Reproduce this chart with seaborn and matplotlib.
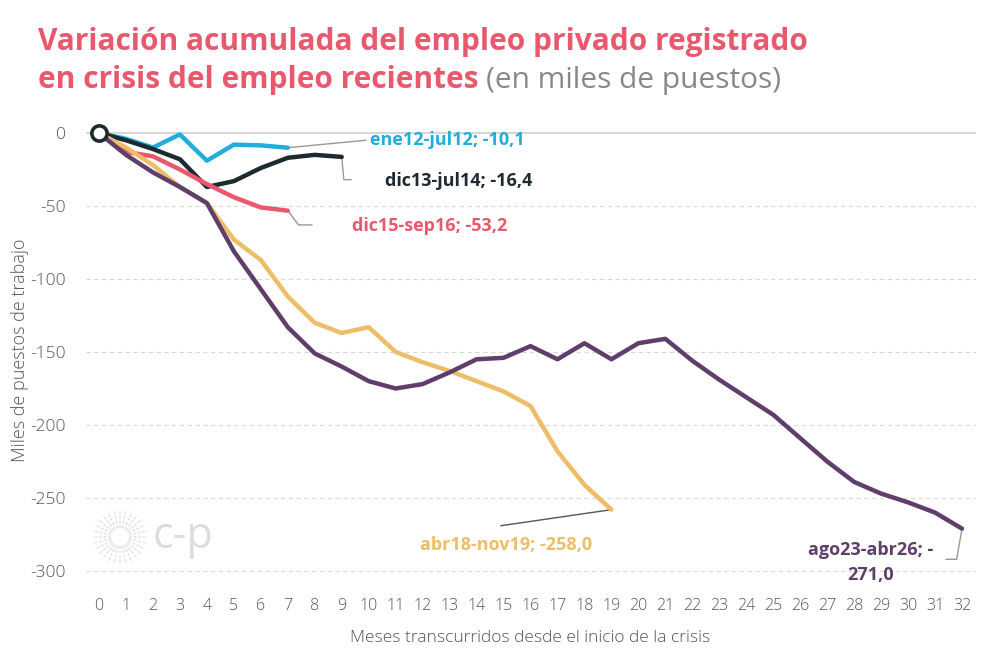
import numpy as np
import pandas as pd
import matplotlib
matplotlib.use("Agg")
import matplotlib.pyplot as plt
import seaborn as sns
from matplotlib.lines import Line2D

# series (miles de puestos), month 0 = inicio de la crisis
ene12_jul12 = [0, -4, -10, -1, -19, -8, -8.5, -10.1]
dic13_jul14 = [0, -5, -11, -18, -37, -33, -24, -17, -15, -16.4]
dic15_sep16 = [0, -13, -16, -25, -35, -44, -51, -53.2]
abr18_nov19 = [0, -10, -22, -37, -48, -73, -87, -112, -130, -137, -133, -150,
               -157, -163, -170, -177, -187, -218, -241, -258]
ago23_abr26 = [0, -15, -27, -37, -48, -81, -107, -133, -151, -160, -170, -175,
               -172, -164, -155, -154, -146, -155, -144, -155, -144, -141,
               -156, -169, -181, -193, -209, -225, -239, -247, -253, -260, -271]

names = ["ene12-jul12", "dic13-jul14", "dic15-sep16", "abr18-nov19", "ago23-abr26"]
series = [ene12_jul12, dic13_jul14, dic15_sep16, abr18_nov19, ago23_abr26]
end_labels = ["ene12-jul12; -10,1", "dic13-jul14; -16,4", "dic15-sep16; -53,2",
              "abr18-nov19; -258,0", "ago23-abr26; -\n271,0"]
colors = ["#22AEDB", "#1E2A30", "#E9586D", "#EDBD68", "#5F3E6C"]
y_ticks = [0, -50, -100, -150, -200, -250, -300]
x_ticks = list(range(0, 33))

rows = []
for n, s in zip(names, series):
    for m, v in enumerate(s):
        rows.append({"mes": m, "valor": v, "crisis": n})
df = pd.DataFrame(rows)

sns.set_style("white")
plt.rcParams["font.family"] = ["Open Sans", "DejaVu Sans"]
plt.rcParams["axes.unicode_minus"] = False

fig = plt.figure(figsize=(10, 6.49), dpi=100)
ax = fig.add_axes([0.0855, 0.0986, 0.89, 0.7242])

for y in y_ticks[1:]:
    ax.axhline(y, color="#d9d9d9", lw=0.8, ls=(0, (4, 3)), zorder=0)
ax.axhline(0, color="#cfcfcf", lw=1.2, zorder=0)

sns.lineplot(data=df, x="mes", y="valor", hue="crisis", hue_order=names,
             palette=colors, lw=3.2, legend=False, ax=ax, zorder=3)
ax.plot([0], [0], marker="o", ms=11, mfc="white", mec="#1E2A30", mew=2.6, zorder=5)

ax.set_xlim(-0.5, 32.5)
ax.set_ylim(-309.6, 12.3)
ax.set_xticks(x_ticks)
ax.set_yticks(y_ticks)
ax.tick_params(axis="both", length=0, labelsize=11.5, labelcolor="#555555")
ax.tick_params(axis="x", pad=9)
ax.tick_params(axis="y", pad=14, labelsize=12.5)
for lab in ax.get_xticklabels() + ax.get_yticklabels():
    lab.set_fontweight("light")
sns.despine(ax=ax, left=True, bottom=True)
ax.set_xlabel("Meses transcurridos desde el inicio de la crisis", fontsize=12.5,
              color="#555555", labelpad=12, fontweight="light")
ax.set_ylabel("Miles de puestos de trabajo", fontsize=13, color="#555555",
              fontweight="light")
ax.yaxis.set_label_coords(-0.0635, 0.5)

# leader lines + end labels (data coords)
lab_font = dict(fontsize=13, fontweight="bold")
ax.plot([7, 9.9], [-10.1, -5], color="#999999", lw=1)
ax.text(10.05, -5, end_labels[0], color=colors[0], va="center", ha="left", **lab_font)
ax.plot([9, 9.08, 9.35], [-16.4, -32, -32], color="#999999", lw=1)
ax.text(10.6, -33, end_labels[1], color=colors[1], va="center", ha="left", **lab_font)
ax.plot([7, 7.4, 7.9], [-53.2, -63, -63], color="#999999", lw=1)
ax.text(9.4, -64, end_labels[2], color=colors[2], va="center", ha="left", **lab_font)
ax.plot([19, 14.9], [-258, -269], color="#555555", lw=1)
ax.text(15.1, -282, end_labels[3], color=colors[3], va="center", ha="center", **lab_font)
ax.plot([32, 31.8, 31.4], [-271, -292, -292], color="#999999", lw=1)
ax.text(28.6, -294, end_labels[4], color=colors[4], va="center", ha="center",
        linespacing=1.5, **lab_font)

# title
fig.text(0.038, 0.935, "Variación acumulada del empleo privado registrado",
         fontsize=21.5, fontweight="bold", color="#E9586D", va="center")
t2 = fig.text(0.038, 0.876, "en crisis del empleo recientes ", fontsize=21.5,
              fontweight="bold", color="#E9586D", va="center")
fig.canvas.draw()
bb = t2.get_window_extent()
fig.text(bb.x1 / 1000, 0.876, "(en miles de puestos)", fontsize=21.5,
         color="#888888", va="center")

# watermark logo
cx, cy = 0.120, 1 - 537 / 649
for a in np.linspace(0, 2 * np.pi, 28, endpoint=False):
    r0, r1 = 0.009, 0.028
    fig.add_artist(Line2D([cx + r0 * np.cos(a), cx + r1 * np.cos(a)],
                          [cy + r0 * np.sin(a) * 1.54, cy + r1 * np.sin(a) * 1.54],
                          color="#e3e3e3", lw=1.1, ls=(0, (2, 1))))
fig.text(0.153, cy, "c-p", fontsize=31, color="#dddddd", va="center", ha="left")

fig.savefig("out.png", dpi=100)
